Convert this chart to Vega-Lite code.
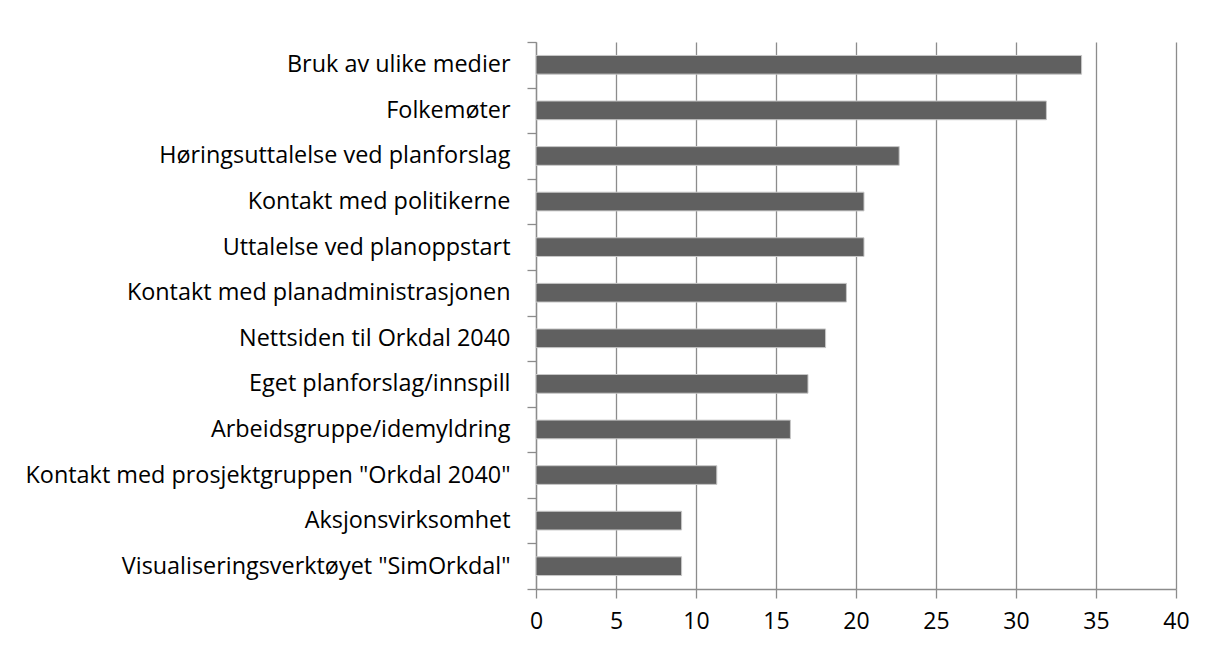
{
  "$schema": "https://vega.github.io/schema/vega-lite/v6.json",
  "width": 640,
  "height": 547,
  "autosize": {"type": "none"},
  "padding": {"left": 536, "top": 42, "right": 31, "bottom": 58},
  "background": "white",
  "data": {
    "values": [
      {"kategori": "Bruk av ulike medier", "verdi": 34.1},
      {"kategori": "Folkemøter", "verdi": 31.9},
      {"kategori": "Høringsuttalelse ved planforslag", "verdi": 22.7},
      {"kategori": "Kontakt med politikerne", "verdi": 20.5},
      {"kategori": "Uttalelse ved planoppstart", "verdi": 20.5},
      {"kategori": "Kontakt med planadministrasjonen", "verdi": 19.4},
      {"kategori": "Nettsiden til Orkdal 2040", "verdi": 18.1},
      {"kategori": "Eget planforslag/innspill", "verdi": 17.0},
      {"kategori": "Arbeidsgruppe/idemyldring", "verdi": 15.9},
      {"kategori": "Kontakt med prosjektgruppen \"Orkdal 2040\"", "verdi": 11.3},
      {"kategori": "Aksjonsvirksomhet", "verdi": 9.1},
      {"kategori": "Visualiseringsverktøyet \"SimOrkdal\"", "verdi": 9.1}
    ]
  },
  "mark": {"type": "bar", "color": "#606060", "stroke": "#c8c8c8", "strokeWidth": 1, "height": {"band": 0.41}},
  "encoding": {
    "y": {
      "field": "kategori",
      "type": "nominal",
      "sort": null,
      "scale": {"paddingInner": 0, "paddingOuter": 0},
      "axis": {
        "title": null,
        "grid": false,
        "tickBand": "extent",
        "tickSize": 9,
        "tickColor": "#8c8c8c",
        "tickWidth": 1.3,
        "domainColor": "#8c8c8c",
        "domainWidth": 1.3,
        "labelPadding": 17,
        "labelFont": "Open Sans",
        "labelFontSize": 23.4,
        "labelColor": "#000000",
        "labelLimit": 600
      }
    },
    "x": {
      "field": "verdi",
      "type": "quantitative",
      "scale": {"domain": [0, 40], "nice": false},
      "axis": {
        "title": null,
        "values": [0, 5, 10, 15, 20, 25, 30, 35, 40],
        "grid": true,
        "gridColor": "#8c8c8c",
        "gridWidth": 1.3,
        "gridOpacity": 1,
        "tickSize": 9,
        "tickColor": "#8c8c8c",
        "tickWidth": 1.3,
        "domainColor": "#8c8c8c",
        "domainWidth": 1.3,
        "labelPadding": 12,
        "labelFont": "Open Sans",
        "labelFontSize": 23,
        "labelColor": "#000000",
        "labelFlush": false
      }
    }
  },
  "config": {"view": {"stroke": null}}
}
